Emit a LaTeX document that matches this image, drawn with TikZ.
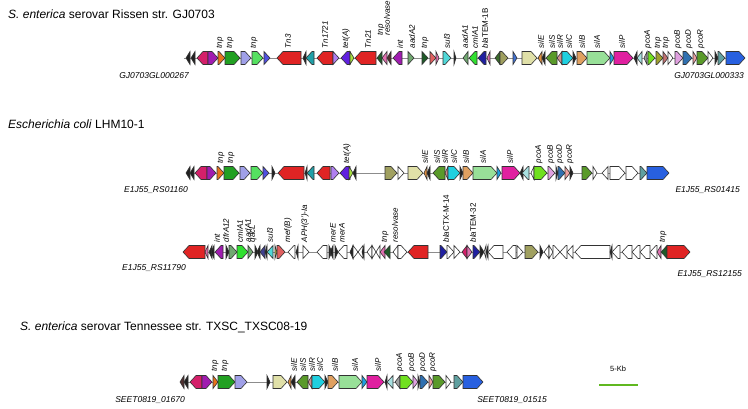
\documentclass[tikz,border=0pt]{standalone}
\usepackage{fontspec}
\setmainfont{Liberation Sans}

% gene colours
\definecolor{gCrim}{HTML}{D4206A}
\definecolor{gPurp}{HTML}{A01CB0}
\definecolor{gOrng}{HTML}{E8731C}
\definecolor{gGrn}{HTML}{22A022}
\definecolor{gLav}{HTML}{A0A0E8}
\definecolor{gLgrn}{HTML}{55E060}
\definecolor{gSlate}{HTML}{5050E0}
\definecolor{gRed}{HTML}{E02424}
\definecolor{gTeal}{HTML}{20A0A8}
\definecolor{gMpur}{HTML}{B080F0}
\definecolor{gViol}{HTML}{6020E0}
\definecolor{gYgrn}{HTML}{A8E040}
\definecolor{gDkgrn}{HTML}{1E5A28}
\definecolor{gPink}{HTML}{E070B0}
\definecolor{gDsea}{HTML}{70A870}
\definecolor{gIndr}{HTML}{E06060}
\definecolor{gTurq}{HTML}{50D8D8}
\definecolor{gLime}{HTML}{30E030}
\definecolor{gDblue}{HTML}{2020A0}
\definecolor{gDolive}{HTML}{3A6A2A}
\definecolor{gKhaki}{HTML}{A0A060}
\definecolor{gBlue}{HTML}{4070D0}
\definecolor{gPale}{HTML}{E0E0A8}
\definecolor{gSand2}{HTML}{E09040}
\definecolor{gOlive}{HTML}{5A9A2A}
\definecolor{gRosy}{HTML}{D09090}
\definecolor{gCyan}{HTML}{20D0E0}
\definecolor{gSand}{HTML}{E0A060}
\definecolor{gMint}{HTML}{98E098}
\definecolor{gSky}{HTML}{20A0E0}
\definecolor{gMag}{HTML}{E020A0}
\definecolor{gPturq}{HTML}{A8E0E0}
\definecolor{gGray}{HTML}{A0A0A0}
\definecolor{gLawn}{HTML}{70E020}
\definecolor{gOlivey}{HTML}{A0A030}
\definecolor{gRosy2}{HTML}{C07070}
\definecolor{gPlum}{HTML}{E0A0E0}
\definecolor{gSteel}{HTML}{3070B0}
\definecolor{gSalm}{HTML}{F0A0A0}
\definecolor{gCadet}{HTML}{60A0A0}
\definecolor{gRoyal}{HTML}{2860E0}
\definecolor{gBlk}{HTML}{202020}
\definecolor{gNavy}{HTML}{404090}
\definecolor{gYel}{HTML}{C0C040}
\definecolor{gBrown}{HTML}{503030}
\definecolor{kbGreen}{HTML}{60B820}

\tikzset{
  gene/.style={draw=black!80, line width=0.6pt, line join=miter},
  backbone/.style={draw=black!45, line width=0.8pt},
  glab/.style={font=\fontsize{8}{9}\selectfont\itshape, rotate=90, anchor=west, inner sep=0.5pt},
  locus/.style={font=\fontsize{8.5}{10}\selectfont\itshape, inner sep=0pt},
  title/.style={font=\fontsize{12}{14}\selectfont, anchor=west, inner sep=0pt}
}

% gene arrow: tail x, head x, fill colour (row height in \ry)
\newcommand{\gene}[3]{%
  \pgfmathsetmacro{\hx}{#2-sign(#2-#1)*min(6,abs(#2-#1))}
  \draw[gene,fill=#3] (#1,\ry-6.5) -- (\hx,\ry-6.5) -- (#2,\ry) -- (\hx,\ry+6.5) -- (#1,\ry+6.5) -- cycle;}

\begin{document}
\begin{tikzpicture}[x=1pt,y=-1pt]
\useasboundingbox (0,0) rectangle (748,408);

% ---- S. enterica Rissen GJ0703
\node[title] (t1) at (8,14) {\textit{S. enterica} serovar Rissen str. GJ0703};
\def\ry{58}
\draw[backbone] (184,\ry) -- (745,\ry);
\foreach \a/\b/\c in {190/186/gBlk, 195/191/gBlk, 208/197/gCrim, 208/218/gPurp, 218/225/gOrng,
  225/240/gGrn, 241/251/gLav, 252/263/gLgrn, 264/270/gSlate, 301/277/gRed, 306/303/gBlk,
  314/306/gTeal, 333/317/gRed, 333/339/gMpur, 350/341/gViol, 350/354/gYgrn, 376/355/gRed,
  382/377/gDkgrn, 387/382/gPink, 391/387/gBrown, 402/393/gPurp, 408/414/gDsea, 422/428/gDkgrn,
  430/436/gIndr, 436/439/gPink, 443/451/gTurq, 454/456/gBlk, 468/463/gDsea, 477/469/gLime,
  486/478/gDblue, 490/487/gPink, 500/495/gDolive, 500/508/gKhaki, 513/517/gBlue, 522/537/gPale,
  542/538/gSand2, 545/542/gBlk, 557/546/gOlive, 562/557/gRosy, 562/573/gCyan, 573/576/gBlk,
  577/587/gSand, 587/610/gMint, 610/614/gSky, 614/633/gMag, 637/634/gBlk, 642/637/gPturq,
  647/644/gGray, 648/655/gLawn, 656/663/gOlivey, 663/668/gRosy2, 668/673/white, 675/683/gPlum,
  683/692/gSteel, 693/697/gSalm, 697/708/gOlive, 708/713/white, 715/718/gBlk, 718/725/gCadet,
  726/745/gRoyal}
  \gene{\a}{\b}{\c};
\foreach \x/\t in {220/tnp, 230/tnp, 254/tnp, 288/Tn3, 325/Tn1721, 346/tet(A), 368/Tn21,
  400/int, 412/aadA2, 425/tnp, 447/sul3, 465/aadA1, 475/cmlA1, 485/{bla\upshape TEM-1B},
  541/silE, 552/silS, 560/silR, 569/silC, 582/silB, 597/silA, 622/silP, 648/pcoA, 658/tnp,
  666/tnp, 678/pcoB, 689/pcoD, 701/pcoR}
  \node[glab] at (\x,\ry-9) {\t};
\node[glab] at (381,\ry-22) {tnp};
\node[glab] at (387,\ry-22) {resolvase};
\node[locus, anchor=east] (l1a) at (189,76) {GJ0703GL000267};
\node[locus, anchor=east] (l1b) at (744,76) {GJ0703GL000333};

% ---- Escherichia coli LHM10-1
\node[title] (t2) at (8,124) {\textit{Escherichia coli} LHM10-1};
\def\ry{173}
\draw[backbone] (186,\ry) -- (669,\ry);
\foreach \a/\b/\c in {190/186/gBlk, 194/190/gBlk, 207/195/gCrim, 207/216/gPurp, 217/224/gOrng,
  224/239/gGrn, 240/250/gLav, 251/263/gLgrn, 263/269/gSlate, 272/275/gBlk, 304/278/gRed,
  307/305/gBlk, 314/307/gTeal, 330/317/gRed, 331/339/gMpur, 350/340/gViol, 349/353/gYgrn,
  356/353/gBlk, 385/397/gKhaki, 398/404/white, 408/423/gPale, 427/424/gSand2, 430/427/gBlk,
  445/433/gOlive, 448/445/gRosy, 448/460/gCyan, 460/463/gBlk, 463/473/gSand, 473/497/gMint,
  497/501/gSky, 502/520/gMag, 523/520/gBlk, 529/522/gPturq, 534/531/white, 534/547/gLawn,
  548/555/gPlum, 556/558/gBlk, 558/565/gSteel, 565/570/gSalm, 570/573/gBlk, 582/592/gOlive,
  593/597/white, 608/602/white, 610/625/white, 626/638/white, 640/647/gCadet, 647/669/gRoyal}
  \gene{\a}{\b}{\c};
\foreach \x/\t in {221/tnp, 231/tnp, 347/tet(A), 425/silE, 437/silS, 445/silR, 454/silC,
  466/silB, 483/silA, 510/silP, 539/pcoA, 551/pcoB, 560/pcoD, 570/pcoR}
  \node[glab] at (\x,\ry-9) {\t};
\node[locus, anchor=east] (l2a) at (188,190) {E1J55\_RS01160};
\node[locus, anchor=east] (l2b) at (740,190) {E1J55\_RS01415};

\def\ry{252}
\draw[backbone] (183,\ry) -- (690,\ry);
\foreach \a/\b/\c in {205/183/gRed, 208/205/gPink, 212/209/gBlk, 214/211/gBlk, 223/215/gPurp,
  226/229/gBlk, 229/237/gDsea, 237/248/gLime, 248/253/gDsea, 255/258/gBlk, 260/257/gBlk,
  265/260/gNavy, 267/265/gBlk, 273/267/gTurq, 275/277/gYel, 277/285/gIndr, 295/288/white,
  298/296/gBlk, 303/309/white, 327/317/white, 329/332/gBlk, 333/330/gBlk, 335/338/gBlk,
  347/338/white, 353/350/gBlk, 353/358/white, 363/358/white, 364/362/gBlk, 372/367/white,
  372/376/white, 380/376/white, 385/380/gPink, 390/384/gDkgrn, 398/393/white, 398/407/white,
  428/408/gRed, 440/447/gDblue, 447/454/white, 454/460/white, 467/462/gCrim, 467/472/gPink,
  473/480/gDblue, 480/484/gBlk, 486/484/white, 488/486/gBlk, 503/488/white, 516/507/white,
  517/523/white, 525/538/gKhaki, 540/543/gBlk, 549/544/white, 549/553/white, 553/560/white,
  567/560/white, 573/567/white, 610/575/white, 612/610/gBlk, 620/612/white, 632/622/white,
  640/632/white, 650/640/white, 657/650/white, 661/657/gPink, 667/661/gDkgrn, 667/690/gRed}
  \gene{\a}{\b}{\c};
\foreach \x/\t in {217/int, 226/dfrA12, 240/cmlA1, 248/aadA1, 253/qacL, 270/sul3, 288/mef(B),
  305/APH(3')-Ia, 333/merE, 342/merA, 385/tnp, 395/resolvase, 446/{bla\upshape CTX-M-14},
  473/{bla\upshape TEM-32}, 663/tnp}
  \node[glab] at (\x,\ry-9) {\t};
\node[locus, anchor=east] (l3a) at (186,268) {E1J55\_RS11790};
\node[locus, anchor=east] (l3b) at (742,274) {E1J55\_RS12155};

% ---- S. enterica Tennessee TXSC08-19
\node[title] (t4) at (20,327) {\textit{S. enterica} serovar Tennessee str. TXSC\_TXSC08-19};
\def\ry{382}
\draw[backbone] (180,\ry) -- (483,\ry);
\foreach \a/\b/\c in {184/180/gBrown, 188/184/gBlk, 202/190/gCrim, 202/212/gPurp, 213/218/gOrng,
  218/235/gGrn, 235/247/gLav, 267/270/gBlk, 273/287/gPale, 291/288/gSand2, 295/291/gBlk,
  308/297/gOlive, 312/308/gRosy, 312/325/gCyan, 325/328/gBlk, 328/338/gSand, 339/362/gMint,
  362/367/gSky, 367/384/gMag, 387/385/gBlk, 393/387/gPturq, 400/395/gGray, 400/413/gLawn,
  413/418/gPlum, 418/420/gBlk, 420/428/gSteel, 429/433/gSalm, 433/445/gOlive, 446/451/white,
  454/463/gCadet, 463/483/gRoyal}
  \gene{\a}{\b}{\c};
\foreach \x/\t in {215/tnp, 225/tnp, 294/silE, 303/silS, 312/silR, 320/silC, 335/silB,
  355/silA, 378/silP, 400/pcoA, 412/pcoB, 423/pcoD, 433/pcoR}
  \node[glab] at (\x,\ry-10) {\t};
\node[locus, anchor=east] (l4a) at (185,400) {SEET0819\_01670};
\node[locus, anchor=east] (l4b) at (547,400) {SEET0819\_01515};

% scale bar
\node[font=\fontsize{7.5}{9}\selectfont] (kb) at (618,369) {5-Kb};
\draw[kbGreen, line width=2.5pt] (599,385) -- (638,385);
\end{tikzpicture}
\end{document}
